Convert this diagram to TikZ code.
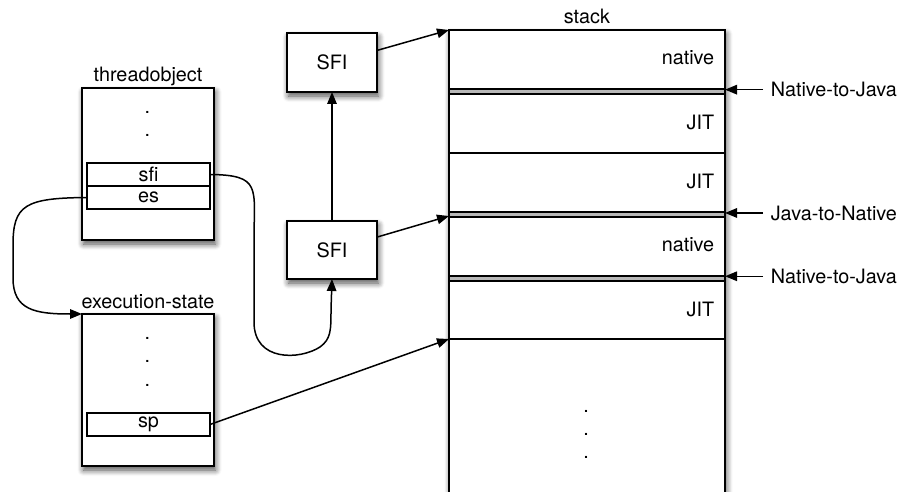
\documentclass[tikz,border=0pt]{standalone}
\usepackage{fontspec}
\setmainfont{TeX Gyre Heros}
\usetikzlibrary{arrows.meta,shadows.blur}
\begin{document}
\begin{tikzpicture}[x=1pt,y=-1pt,line width=1.6pt,
  font=\fontsize{19.8}{23}\selectfont,
  box/.style={draw,fill=white,inner sep=0pt,outer sep=0pt,
    blur shadow={shadow xshift=1.5pt,shadow yshift=-4pt,
      shadow blur radius=6pt,shadow blur steps=8,shadow opacity=70}},
  field/.style={draw,fill=white,inner sep=0pt,outer sep=0pt,
    minimum width=123pt,minimum height=23pt,line width=1.4pt},
  link/.style={-{Triangle[length=12pt,width=9.5pt]},line width=1.5pt},
  caption/.style={anchor=base,inner sep=0pt},
  dotmark/.style={anchor=base,inner sep=0pt},
  seglabel/.style={anchor=base east,inner sep=0pt},
  sidelabel/.style={anchor=base west,inner xsep=7pt,inner ysep=0pt},
  band/.style={draw,fill=black!28,line width=1.3pt}]
\useasboundingbox (0,0) rectangle (897,492);

% ---- thread object ----
\node[caption] (tcap) at (148,81.7) {threadobject};
\node[box,minimum width=132pt,minimum height=152pt] (tobj) at (148,164) {};
\node[dotmark] (td1) at (147.5,113.5) {.};
\node[dotmark] (td2) at (147.5,136.5) {.};
\node[field] (sfi) at (148.5,174.5) {sfi};
\node[field] (es) at (148.5,197.5) {es};

% ---- execution state ----
\node[caption] (ecap) at (148,308.3) {execution-state};
\node[box,minimum width=132pt,minimum height=152pt] (estate) at (148,390) {};
\node[dotmark] (ed1) at (147.5,339.5) {.};
\node[dotmark] (ed2) at (147.5,362.5) {.};
\node[dotmark] (ed3) at (147.5,386.5) {.};
\node[field] (sp) at (148.5,424.5) {sp};

% ---- stack frame infos ----
\node[box,minimum width=90pt,minimum height=59pt] (sfiTop) at (332,62.5) {SFI};
\node[box,minimum width=90pt,minimum height=58pt] (sfiBot) at (332,250) {SFI};

% ---- stack ----
\node[caption] (scap) at (587,23.3) {stack};
\node[box,minimum width=276pt,minimum height=480pt] (stack) at (587,270) {};
\draw[band] (449,89) rectangle (725,94);
\draw (449,153) -- (725,153);
\draw[band] (449,212) rectangle (725,217);
\draw[band] (449,276) rectangle (725,281);
\draw (449,339) -- (725,339);

\node[seglabel] (l1) at (715,65) {native};
\node[seglabel] (l2) at (715,129.3) {JIT};
\node[seglabel] (l3) at (715,188.3) {JIT};
\node[seglabel] (l4) at (715,251.7) {native};
\node[seglabel] (l5) at (715,316) {JIT};
\node[dotmark] (sd1) at (586,412.5) {.};
\node[dotmark] (sd2) at (586,435.5) {.};
\node[dotmark] (sd3) at (586,458.5) {.};

\coordinate (jn) at (449,216);
\coordinate (top) at (449,339);

% ---- transition labels ----
\node[sidelabel] (t1) at (763,96.7) {Native-to-Java};
\node[sidelabel] (t2) at (763,220) {Java-to-Native};
\node[sidelabel] (t3) at (763,283.3) {Native-to-Java};
\draw[link] (t1.west) -- (t1.west -| stack.east);
\draw[link] (t2.west) -- (t2.west -| stack.east);
\draw[link] (t3.west) -- (t3.west -| stack.east);

% ---- pointers ----
\draw[link] (sfiTop.15) -- (stack.north west);
\draw[link] (sfiBot.16) -- (jn);
\draw[link] (sfiBot.north) -- (sfiTop.south);
\draw[link] (sp.east) -- (top);
\draw[link] (sfi.east) .. controls (262,175) and (254,188) .. (254,240)
  -- (254,322) .. controls (254,362) and (300,360) .. (320,347)
  .. controls (331,339) and (331,330) .. (331,310) -- (sfiBot.south);
\draw[link] (es.west) .. controls (25,198) and (13,205) .. (13,245)
  -- (13,278) .. controls (13,310) and (35,314) .. (estate.north west);
\end{tikzpicture}
\end{document}
